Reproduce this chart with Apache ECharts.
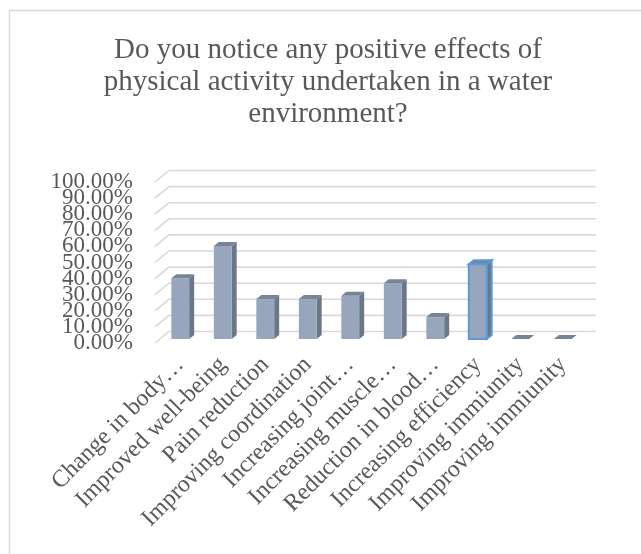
<!DOCTYPE html>
<html lang="en">
<head>
    <meta charset="UTF-8">
    <title>Positive effects of water activity</title>
    <script src="https://cdn.jsdelivr.net/npm/echarts@6/dist/echarts.min.js"></script>
    <style>
        html, body { margin: 0; padding: 0; background: #fff; }
    </style>
</head>
<body>
    <div id="main" style="width:641px;height:554px;"></div>
</body>
<script type="text/javascript">
    // chart data
    var categories = [
        'Change in body\u2026',
        'Improved well-being',
        'Pain reduction',
        'Improving coordination',
        'Increasing joint\u2026',
        'Increasing muscle\u2026',
        'Reduction in blood\u2026',
        'Increasing efficiency',
        'Improving immiunity',
        'Improving immiunity'
    ];
    var shares = [0.378, 0.578, 0.248, 0.248, 0.268, 0.347, 0.136, 0.464, 0, 0];
    var yTicks = [0, 0.1, 0.2, 0.3, 0.4, 0.5, 0.6, 0.7, 0.8, 0.9, 1.0];

    var titleText = 'Do you notice any positive effects of\nphysical activity undertaken in a water\nenvironment?';
    var selectedIndex = 7;   // bar drawn with the blue outline

    var serif = '"Liberation Serif", "Times New Roman", serif';
    var textColor = '#595959';

    // 3d look: back wall offset and bar depth
    var WALL_DX = 12, WALL_DY = 11.5;
    var BAR_DX = 5, BAR_DY = 4, LIFT = 4;

    // plot area (front plane)
    var G_LEFT = 159, G_RIGHT = 57, G_TOP = 182, G_BOTTOM = 211;
    var STEP_PX = (554 - G_TOP - G_BOTTOM) * 0.1;   // pixels for 10%

    var barData = [];
    for (var i = 0; i < shares.length; i++) {
        barData.push([i, shares[i]]);
    }
    var wallData = [];
    for (var i = 0; i < yTicks.length; i++) {
        wallData.push([0, yTicks[i]]);
    }

    function pctLabel(v) {
        if (v < -1e-9 || v > 1 + 1e-9) return '';
        return (v * 100).toFixed(2) + '%';
    }

    function renderWall(params, api) {
        var cs = params.coordSys;
        var y = api.coord([0, api.value(1)])[1];
        return {
            type: 'polyline',
            shape: {
                points: [
                    [cs.x - 4, y],
                    [cs.x - 4 + WALL_DX + 2, y - WALL_DY],
                    [cs.x + cs.width + WALL_DX, y - WALL_DY]
                ]
            },
            style: { stroke: '#D9D9D9', lineWidth: 1.6, fill: null },
            silent: true
        };
    }

    function renderBar(params, api) {
        var idx = api.value(0);
        var base = api.coord([idx, 0]);
        var top = api.coord([idx, api.value(1)]);
        var bw = api.size([1, 0])[0] * 0.42;
        var x0 = base[0] - bw / 2, x1 = base[0] + bw / 2;
        var yb = base[1] - LIFT, yt = top[1] - LIFT;
        var outline = params.dataIndex === selectedIndex;
        var edge = outline ? { stroke: '#5B9BD5', lineWidth: 2 } : { stroke: null };

        var kids = [];
        if (yb - yt > 0.5) {
            kids.push({
                type: 'polygon',
                shape: { points: [[x1, yt], [x1 + BAR_DX, yt - BAR_DY], [x1 + BAR_DX, yb - BAR_DY], [x1, yb]] },
                style: Object.assign({ fill: '#6B7687' }, edge)
            });
            kids.push({
                type: 'rect',
                shape: { x: x0, y: yt, width: bw, height: yb - yt },
                style: Object.assign({ fill: '#97A6BC' }, edge)
            });
        }
        kids.push({
            type: 'polygon',
            shape: { points: [[x0, yt], [x1, yt], [x1 + BAR_DX, yt - BAR_DY], [x0 + BAR_DX, yt - BAR_DY]] },
            style: Object.assign({ fill: '#76849A' }, edge)
        });
        return { type: 'group', children: kids };
    }

    var yLabelStyle = {
        margin: 26,
        fontFamily: serif,
        fontSize: 23,
        color: textColor,
        formatter: pctLabel
    };

    var myChart = echarts.init(document.getElementById('main'), null, { renderer: 'canvas' });

    var option = {
        backgroundColor: '#ffffff',
        animation: false,
        title: {
            text: titleText,
            left: 323,
            top: 29,
            textAlign: 'center',
            textStyle: {
                fontFamily: serif,
                fontSize: 29,
                fontWeight: 'normal',
                color: textColor,
                lineHeight: 32
            }
        },
        graphic: [{
            type: 'rect',
            shape: { x: 9.5, y: 10.5, width: 700, height: 700 },
            style: { stroke: '#D9D9D9', lineWidth: 1.5, fill: null },
            silent: true
        }],
        // second grid is shifted by half a step, it only carries the odd tick labels
        grid: [
            { left: G_LEFT, right: G_RIGHT, top: G_TOP, bottom: G_BOTTOM },
            { left: G_LEFT, right: G_RIGHT, top: G_TOP - STEP_PX, bottom: G_BOTTOM - STEP_PX }
        ],
        xAxis: [
            {
                type: 'category',
                gridIndex: 0,
                data: categories,
                axisLine: { show: false },
                axisTick: { show: false },
                axisLabel: {
                    interval: 0,
                    rotate: 45,
                    margin: 18,
                    fontFamily: serif,
                    fontSize: 24,
                    color: textColor
                }
            },
            {
                type: 'category',
                gridIndex: 1,
                data: categories,
                show: false
            }
        ],
        yAxis: [
            {
                type: 'value',
                gridIndex: 0,
                min: 0,
                max: 1,
                interval: 0.2,
                axisLine: { show: false },
                axisTick: { show: false },
                splitLine: { show: false },
                axisLabel: yLabelStyle
            },
            {
                type: 'value',
                gridIndex: 1,
                min: -0.1,
                max: 1.1,
                interval: 0.2,
                axisLine: { show: false },
                axisTick: { show: false },
                splitLine: { show: false },
                axisLabel: yLabelStyle
            }
        ],
        series: [
            {
                name: 'wall',
                type: 'custom',
                xAxisIndex: 0,
                yAxisIndex: 0,
                renderItem: renderWall,
                data: wallData,
                z: 1,
                silent: true
            },
            {
                name: 'share',
                type: 'custom',
                xAxisIndex: 0,
                yAxisIndex: 0,
                renderItem: renderBar,
                data: barData,
                z: 2
            }
        ]
    };

    myChart.setOption(option);
</script>
</html>
